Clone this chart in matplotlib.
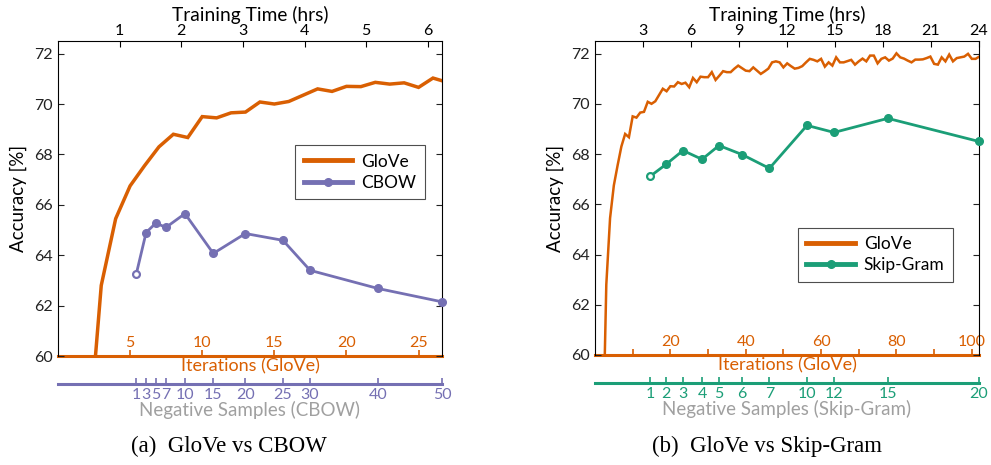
import matplotlib.pyplot as plt
import numpy as np

plt.rcParams['font.family'] = ['Lato', 'DejaVu Sans']

ORANGE = '#d95f02'
PURPLE = '#7570b3'
GREEN = '#1b9e77'
GRAY = '#a0a0a0'

# GloVe accuracy per iteration (iteration 2 onwards)
glove_iter = np.arange(2, 103)
glove_acc = [
    55.8, 62.8, 65.45, 66.75, 67.55, 68.3, 68.8, 68.67, 69.5, 69.45,
    69.65, 69.68, 70.08, 70.0, 70.1, 70.35, 70.6, 70.5, 70.7, 70.69,
    70.86, 70.79, 70.84, 70.66, 71.03, 70.86, 71.08, 71.06, 71.06, 71.26,
    70.95, 71.12, 71.3, 71.26, 71.26, 71.4, 71.52, 71.42, 71.32, 71.3,
    71.45, 71.32, 71.19, 71.29, 71.4, 71.65, 71.69, 71.65, 71.45, 71.61,
    71.5, 71.4, 71.43, 71.5, 71.65, 71.79, 71.75, 71.69, 71.79, 71.48,
    71.65, 71.52, 71.85, 71.65, 71.65, 71.7, 71.75, 71.56, 71.69, 71.8,
    71.69, 71.92, 71.92, 71.61, 71.79, 71.85, 71.72, 71.8, 72.01, 71.85,
    71.8, 71.72, 71.65, 71.76, 71.76, 71.77, 71.82, 71.88, 71.59, 71.56,
    71.85, 71.69, 71.96, 71.69, 71.82, 71.85, 71.88, 71.99, 71.79, 71.79,
    71.88,
]

# hours per GloVe iteration in each comparison
hrs_per_iter_cbow = 0.234
hrs_per_iter_sg = 0.2355

# CBOW runs: negative samples, training time (hrs), accuracy
cbow_neg = [1, 3, 5, 7, 10, 15, 20, 25, 30, 40, 50]
cbow_hrs = [1.27, 1.43, 1.59, 1.75, 2.06, 2.52, 3.04, 3.65, 4.09, 5.19, 6.23]
cbow_acc = [63.25, 64.9, 65.28, 65.1, 65.65, 64.07, 64.86, 64.59, 63.4, 62.68, 62.15]

# Skip-Gram runs
sg_neg = [1, 2, 3, 4, 5, 6, 7, 10, 12, 15, 20]
sg_hrs = [3.44, 4.44, 5.5, 6.69, 7.75, 9.19, 10.9, 13.25, 14.94, 18.3, 24.0]
sg_acc = [67.11, 67.59, 68.14, 67.79, 68.34, 67.98, 67.43, 69.14, 68.86, 69.42, 68.5]

hour_ticks_a = [1, 2, 3, 4, 5, 6]
hour_ticks_b = [3, 6, 9, 12, 15, 18, 21, 24]
iter_ticks_a = [5, 10, 15, 20, 25]
iter_ticks_b = [10, 20, 30, 40, 50, 60, 70, 80, 90, 100]
iter_labels_b = ['', '20', '', '40', '', '60', '', '80', '', '100']

fig = plt.figure(figsize=(9.91, 4.65), dpi=100)


def panel(rect, hrs_per_iter, xmax, hour_ticks, iter_ticks, iter_labels,
          w2v_hrs, w2v_acc, w2v_neg, color, name, glove_lw, legend_box, caption, cap_x):
    ax = fig.add_axes(rect)
    ax.plot(glove_iter * hrs_per_iter, glove_acc, color=ORANGE, lw=glove_lw,
            label='GloVe', solid_joinstyle='miter')
    ax.plot(w2v_hrs, w2v_acc, color=color, lw=2.0, marker='o', ms=5.5,
            label=name, clip_on=False, zorder=3)
    ax.plot(w2v_hrs[:1], w2v_acc[:1], ls='none', marker='o', ms=2.3,
            color='white', clip_on=False, zorder=4)
    ax.set_xlim(0, xmax)
    ax.set_ylim(60, 72.5)
    ax.set_yticks([60, 62, 64, 66, 68, 70, 72])
    ax.tick_params(axis='y', direction='in', length=4, width=0.8,
                   labelsize=11.5, right=True, pad=4, colors='#222222')
    ax.set_ylabel('Accuracy [%]', fontsize=13.5, labelpad=5)

    # training time on top
    ax.xaxis.tick_top()
    ax.xaxis.set_label_position('top')
    ax.set_xticks(hour_ticks)
    ax.tick_params(axis='x', direction='in', length=4, width=0.8,
                   labelsize=11.5, pad=2)
    ax.set_xlabel('Training Time (hrs)', fontsize=13.8, labelpad=2.5)

    ax.spines['bottom'].set_visible(False)
    for s in ['top', 'left', 'right']:
        ax.spines[s].set_linewidth(0.8)

    # GloVe iterations along the bottom
    it = ax.secondary_xaxis('bottom', functions=(lambda h: h / hrs_per_iter,
                                                 lambda i: i * hrs_per_iter))
    it.set_xticks(iter_ticks)
    it.set_xticklabels(iter_labels)
    it.spines['bottom'].set_color(ORANGE)
    it.spines['bottom'].set_linewidth(2.2)
    it.tick_params(direction='in', length=4, width=1.2, color=ORANGE,
                   labelcolor=ORANGE, labelsize=11.5, pad=-14.5)
    it.set_xlabel('Iterations (GloVe)', fontsize=13, color=ORANGE, labelpad=2)

    # negative samples for word2vec
    ng = ax.secondary_xaxis(-0.089)
    ng.set_xticks(w2v_hrs)
    ng.set_xticklabels([str(n) for n in w2v_neg])
    ng.spines['bottom'].set_color(color)
    ng.spines['bottom'].set_linewidth(2.2)
    ng.tick_params(direction='in', length=4, width=1.2, color=color,
                   labelcolor=color, labelsize=11.5, pad=3)
    ng.set_xlabel('Negative Samples (%s)' % name, fontsize=13.5, color=GRAY,
                  labelpad=-1)

    leg = ax.legend(loc='lower left', bbox_to_anchor=legend_box, fontsize=12.5,
                    frameon=True, fancybox=False, edgecolor='#222222',
                    handlelength=2.8, borderpad=0.5, labelspacing=0.3,
                    handletextpad=0.5, borderaxespad=0)
    leg.get_frame().set_linewidth(0.8)
    for h in leg.get_lines():
        h.set_linewidth(3.5)

    fig.text(cap_x, 0.039, caption, ha='center', va='center', fontsize=16.5,
             family='Liberation Serif')
    return ax


panel([0.0585, 0.2344, 0.3875, 0.6774], hrs_per_iter_cbow, cbow_hrs[-1],
      hour_ticks_a, iter_ticks_a, [str(t) for t in iter_ticks_a],
      cbow_hrs, cbow_acc, cbow_neg, PURPLE, 'CBOW', 2.5,
      (0.617, 0.497), '(a)  GloVe vs CBOW', 0.231)
panel([0.6004, 0.2366, 0.3875, 0.6752], hrs_per_iter_sg, 24,
      hour_ticks_b, iter_ticks_b, iter_labels_b,
      sg_hrs, sg_acc, sg_neg, GREEN, 'Skip-Gram', 1.8,
      (0.528, 0.232), '(b)  GloVe vs Skip-Gram', 0.774)

fig.savefig('out.png', dpi=100)
